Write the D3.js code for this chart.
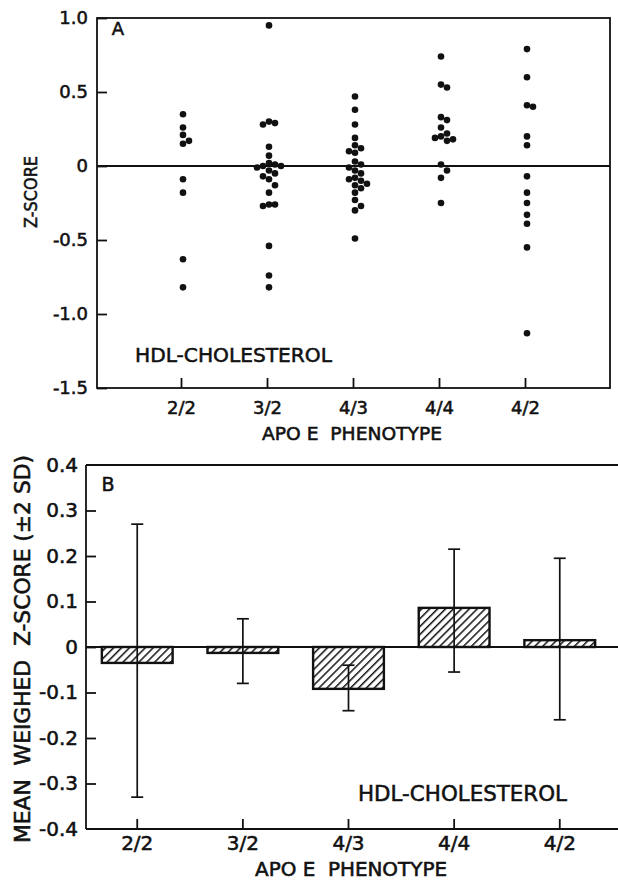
<!DOCTYPE html>
<html>
<head>
<meta charset="utf-8">
<script src="https://cdn.jsdelivr.net/npm/d3@7/dist/d3.min.js"></script>
<style>
  body { margin: 0; background: #fff; }
  svg { display: block; }
  text { font-family: "DejaVu Sans", sans-serif; fill: #111; stroke: #111; stroke-width: 0.55px; white-space: pre; }
</style>
</head>
<body>
<svg width="618" height="883"></svg>
<script>
// phenotype groups
const phenotypes = ['2/2', '3/2', '4/3', '4/4', '4/2'];

// panel A: individual z-scores per phenotype
const z22 = [0.35, 0.26, 0.21, 0.17, 0.15, -0.09, -0.18, -0.63, -0.82];
const z32 = [0.95, 0.30, 0.29, 0.28, 0.13, 0.07, 0.02, 0.01, 0.0, 0.0, -0.01, -0.03, -0.05,
             -0.07, -0.09, -0.13, -0.18, -0.26, -0.26, -0.27, -0.54, -0.74, -0.82];
const z43 = [0.47, 0.38, 0.28, 0.19, 0.14, 0.12, 0.10, 0.09, 0.03, 0.01, -0.01, -0.03, -0.05,
             -0.08, -0.09, -0.10, -0.12, -0.13, -0.15, -0.18, -0.23, -0.27, -0.30, -0.49];
const z44 = [0.74, 0.55, 0.53, 0.33, 0.31, 0.26, 0.22, 0.20, 0.19, 0.18, 0.17, 0.01, -0.03, -0.08, -0.25];
const z42 = [0.79, 0.60, 0.41, 0.40, 0.20, 0.14, -0.07, -0.18, -0.25, -0.33, -0.39, -0.55, -1.13];
const zByGroup = [z22, z32, z43, z44, z42];

// panel B: mean weighed z-score and +-2 SD limits
const meanZ = [-0.035, -0.013, -0.092, 0.086, 0.015];
const lowZ  = [-0.33, -0.080, -0.14, -0.055, -0.16];
const highZ = [0.27, 0.062, -0.04, 0.215, 0.195];

const ticksA = [1.0, 0.5, 0, -0.5, -1.0, -1.5];
const ticksB = [0.4, 0.3, 0.2, 0.1, 0, -0.1, -0.2, -0.3, -0.4];

const svg = d3.select('svg');
const fmt = d => d === 0 ? '0' : d.toFixed(1);
const lw = 1.8;

// hatch pattern for bars
const pat = svg.append('defs').append('pattern')
    .attr('id', 'hatch')
    .attr('patternUnits', 'userSpaceOnUse')
    .attr('width', 5.6).attr('height', 5.6)
    .attr('patternTransform', 'rotate(45)');
pat.append('rect').attr('width', 5.6).attr('height', 5.6).attr('fill', '#fff');
pat.append('line').attr('x1', 0).attr('y1', 0).attr('x2', 0).attr('y2', 5.6)
    .attr('stroke', '#111').attr('stroke-width', 3);

// ---------- panel A ----------
const A = {left: 97, right: 610, top: 18, bottom: 388};
const yA = d3.scaleLinear().domain([-1.5, 1]).range([A.bottom, A.top]);
const xA = d3.scalePoint().domain(phenotypes).range([95, 611]).padding(1);

const gA = svg.append('g');

gA.append('rect')
    .attr('x', A.left).attr('y', A.top)
    .attr('width', A.right - A.left).attr('height', A.bottom - A.top)
    .attr('fill', 'none').attr('stroke', '#111').attr('stroke-width', lw);

gA.append('line')
    .attr('x1', A.left).attr('x2', A.right)
    .attr('y1', yA(0)).attr('y2', yA(0))
    .attr('stroke', '#111').attr('stroke-width', lw);

const axLA = gA.append('g')
    .attr('transform', `translate(${A.left},0)`)
    .call(d3.axisLeft(yA).tickValues(ticksA).tickFormat(fmt)
        .tickSizeInner(-10).tickSizeOuter(0).tickPadding(9));
const axBA = gA.append('g')
    .attr('transform', `translate(0,${A.bottom})`)
    .call(d3.axisBottom(xA).tickSizeInner(-10).tickSizeOuter(0).tickPadding(13));
[axLA, axBA].forEach(ax => {
  ax.select('.domain').remove();
  ax.selectAll('line').attr('stroke', '#111').attr('stroke-width', lw);
  ax.selectAll('text').attr('font-size', 18).attr('fill', '#111');
});

// simple beeswarm dodge so overlapping dots sit side by side
const r = 3.3;
const dots = [];
zByGroup.forEach((vals, gi) => {
  const placed = [];
  vals.slice().sort((a, b) => b - a).forEach(v => {
    const cy = yA(v);
    const cands = [0, 6, -6, 12, -12, 18, -18];
    let dx = 0;
    for (const c of cands) {
      if (placed.every(p => Math.hypot(p.dx - c, p.cy - cy) >= 2 * r * 0.9)) { dx = c; break; }
    }
    placed.push({dx, cy});
    dots.push({g: phenotypes[gi], v, dx});
  });
});

gA.selectAll('circle').data(dots).enter().append('circle')
    .attr('cx', d => xA(d.g) + 2 + d.dx)
    .attr('cy', d => yA(d.v))
    .attr('r', r)
    .attr('fill', '#111');

gA.append('text').attr('x', 118).attr('y', 35).attr('text-anchor', 'middle')
    .attr('font-size', 18).text('A');
gA.append('text').attr('x', 135).attr('y', 362)
    .attr('font-size', 20).attr('textLength', 197).attr('lengthAdjust', 'spacingAndGlyphs')
    .text('HDL-CHOLESTEROL');
gA.append('text').attr('x', 352).attr('y', 440).attr('text-anchor', 'middle')
    .attr('font-size', 18).attr('textLength', 180).attr('lengthAdjust', 'spacingAndGlyphs')
    .text('APO E  PHENOTYPE');
gA.append('text')
    .attr('transform', 'translate(37,192) rotate(-90)')
    .attr('text-anchor', 'middle')
    .attr('font-size', 18).attr('textLength', 72).attr('lengthAdjust', 'spacingAndGlyphs')
    .text('Z-SCORE');

// ---------- panel B ----------
const B = {left: 86, right: 618, top: 465, bottom: 829};
const yB = d3.scaleLinear().domain([-0.4, 0.4]).range([B.bottom, B.top]);
const xB = d3.scaleBand().domain(phenotypes).range([86, 611])
    .paddingInner(0.33).paddingOuter(0.15);

const gB = svg.append('g');

[B.top, yB(0), B.bottom].forEach(y => {
  gB.append('line')
      .attr('x1', B.left).attr('x2', B.right).attr('y1', y).attr('y2', y)
      .attr('stroke', '#111').attr('stroke-width', lw);
});
gB.append('line')
    .attr('x1', B.left).attr('x2', B.left).attr('y1', B.top).attr('y2', B.bottom)
    .attr('stroke', '#111').attr('stroke-width', lw);

const axLB = gB.append('g')
    .attr('transform', `translate(${B.left},0)`)
    .call(d3.axisLeft(yB).tickValues(ticksB).tickFormat(fmt)
        .tickSizeInner(-10).tickSizeOuter(0).tickPadding(8));
const axBB = gB.append('g')
    .attr('transform', `translate(0,${B.bottom})`)
    .call(d3.axisBottom(xB).tickSizeInner(-10).tickSizeOuter(0).tickPadding(7));
[axLB, axBB].forEach(ax => {
  ax.select('.domain').remove();
  ax.selectAll('line').attr('stroke', '#111').attr('stroke-width', lw);
  ax.selectAll('text').attr('font-size', 20).attr('fill', '#111');
});
axLB.selectAll('.tick').filter(d => d === 0.4 || d === -0.4).select('line').remove();

const bars = phenotypes.map((p, i) => ({p, mean: meanZ[i], lo: lowZ[i], hi: highZ[i]}));

gB.selectAll('rect.bar').data(bars).enter().append('rect')
    .attr('class', 'bar')
    .attr('x', d => xB(d.p))
    .attr('width', xB.bandwidth())
    .attr('y', d => yB(Math.max(0, d.mean)))
    .attr('height', d => Math.abs(yB(d.mean) - yB(0)))
    .attr('fill', 'url(#hatch)')
    .attr('stroke', '#111').attr('stroke-width', 2.4);

const cx = d => xB(d.p) + xB.bandwidth() / 2;
const err = gB.selectAll('g.err').data(bars).enter().append('g').attr('class', 'err')
    .attr('stroke', '#111').attr('stroke-width', 1.7);
err.append('line')
    .attr('x1', cx).attr('x2', cx)
    .attr('y1', d => yB(d.hi)).attr('y2', d => yB(d.lo));
err.append('line')
    .attr('x1', d => cx(d) - 6).attr('x2', d => cx(d) + 6)
    .attr('y1', d => yB(d.hi)).attr('y2', d => yB(d.hi));
err.append('line')
    .attr('x1', d => cx(d) - 6).attr('x2', d => cx(d) + 6)
    .attr('y1', d => yB(d.lo)).attr('y2', d => yB(d.lo));

gB.append('text').attr('x', 108).attr('y', 491).attr('text-anchor', 'middle')
    .attr('font-size', 19).text('B');
gB.append('text').attr('x', 358).attr('y', 801)
    .attr('font-size', 22).attr('textLength', 209).attr('lengthAdjust', 'spacingAndGlyphs')
    .text('HDL-CHOLESTEROL');
gB.append('text').attr('x', 351).attr('y', 876).attr('text-anchor', 'middle')
    .attr('font-size', 19).attr('textLength', 192).attr('lengthAdjust', 'spacingAndGlyphs')
    .text('APO E  PHENOTYPE');
gB.append('text')
    .attr('transform', 'translate(30,649) rotate(-90)')
    .attr('text-anchor', 'middle')
    .attr('font-size', 21).attr('textLength', 388).attr('lengthAdjust', 'spacingAndGlyphs')
    .text('MEAN  WEIGHED  Z-SCORE (±2 SD)');
</script>
</body>
</html>
